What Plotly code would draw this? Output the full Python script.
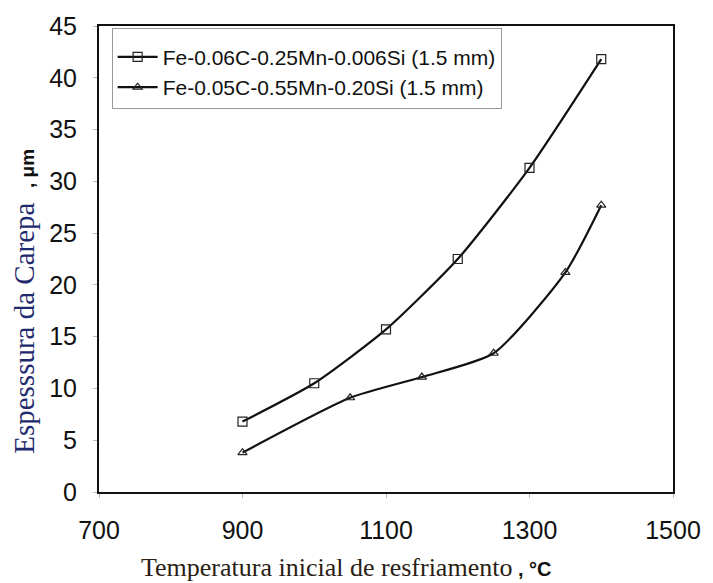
import plotly.graph_objects as go

temp_a = [900, 1000, 1100, 1200, 1300, 1400]
scale_a = [6.8, 10.5, 15.7, 22.5, 31.3, 41.8]
temp_b = [900, 1050, 1150, 1250, 1350, 1400]
scale_b = [3.8, 9.1, 11.1, 13.4, 21.2, 27.7]
name_a = "Fe-0.06C-0.25Mn-0.006Si (1.5 mm)"
name_b = "Fe-0.05C-0.55Mn-0.20Si (1.5 mm)"
x_ticks = [700, 900, 1100, 1300, 1500]
y_ticks = [0, 5, 10, 15, 20, 25, 30, 35, 40, 45]

fig = go.Figure()
fig.add_trace(go.Scatter(
    x=temp_a, y=scale_a, name=name_a, mode="lines+markers", legendgroup="a",
    line=dict(color="#111", width=2.2, shape="spline", smoothing=0.6),
    marker=dict(symbol="square-open", size=9, color="#222", line=dict(width=1.2)),
))
fig.add_trace(go.Scatter(
    x=temp_b, y=scale_b, name=name_b, mode="lines+markers", legendgroup="b",
    line=dict(color="#111", width=2.2, shape="spline", smoothing=0.6),
    marker=dict(symbol="triangle-up-open", size=8, color="#222", line=dict(width=1.2)),
))

serif = "font-family:Liberation Serif, Times New Roman, serif"
fig.update_layout(
    width=713, height=583,
    margin=dict(l=99, r=33, t=22, b=91),
    paper_bgcolor="white", plot_bgcolor="white",
    showlegend=True,
    legend=dict(
        x=0.022, y=0.996, xanchor="left", yanchor="top",
        bordercolor="#999", borderwidth=1, bgcolor="white",
        font=dict(family="Arial, Liberation Sans", size=21, color="#111"),
        title=dict(text="&nbsp;", font=dict(size=6)),
        traceorder="grouped", tracegroupgap=0, itemwidth=40,
    ),
    xaxis=dict(
        range=[700, 1500], tickvals=x_ticks, showgrid=False, zeroline=False,
        showline=True, linecolor="#111", linewidth=2, mirror=True,
        ticks="outside", ticklen=4, tickcolor="#bbb",
        tickfont=dict(family="Arial, Liberation Sans", size=25, color="#111"),
        ticklabelstandoff=11,
    ),
    yaxis=dict(
        range=[0, 45], tickvals=y_ticks, showgrid=False, zeroline=False,
        showline=True, linecolor="#111", linewidth=2, mirror=True,
        ticks="outside", ticklen=4, tickcolor="#bbb",
        tickfont=dict(family="Arial, Liberation Sans", size=25, color="#111"),
        ticklabelstandoff=11,
    ),
    annotations=[
        dict(
            text=f"<span style='{serif}; font-size:26px; color:#2a1d14'>Temperatura inicial de resfriamento</span><b> , °C</b>",
            font=dict(family="Arial, Liberation Sans", size=20, color="#111"),
            xref="paper", yref="paper", x=0.432, y=-0.162,
            xanchor="center", yanchor="middle", showarrow=False,
        ),
        dict(
            text=f"<span style='{serif}; font-size:29px; color:#1f2a6e'>Espesssura da Carepa&nbsp;&nbsp;</span><b>, μm</b>",
            font=dict(family="Arial, Liberation Sans", size=19, color="#111"),
            xref="paper", yref="paper", x=-0.13, y=0.409, textangle=-90,
            xanchor="center", yanchor="middle", showarrow=False,
        ),
    ],
)

fig.write_html("out.html")
